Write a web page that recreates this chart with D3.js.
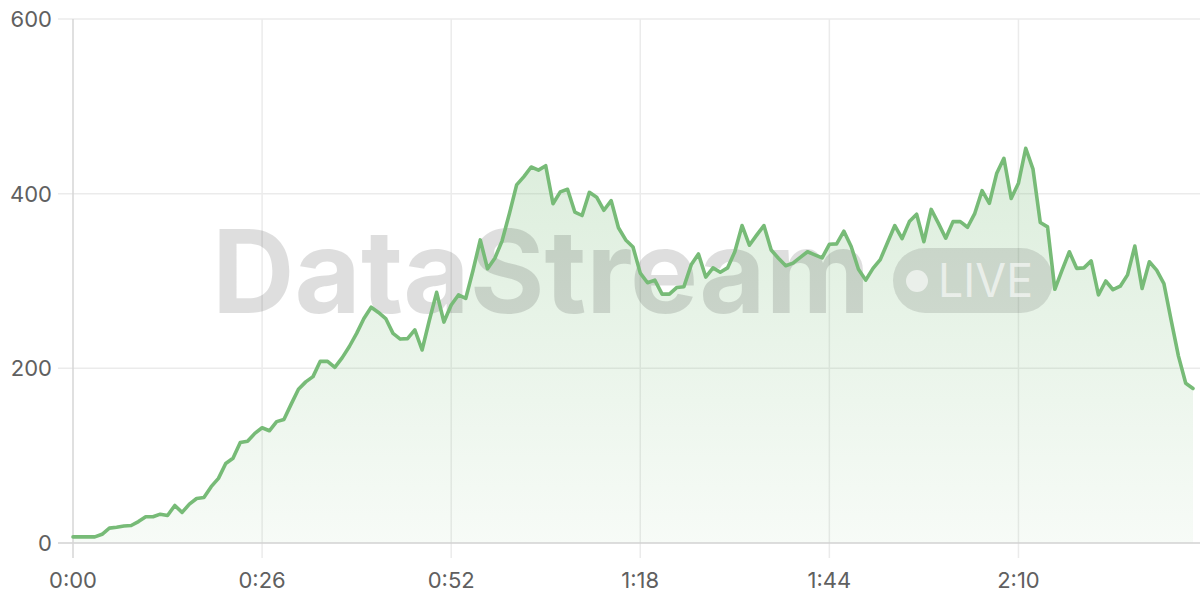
<!DOCTYPE html>
<html>
<head>
<meta charset="utf-8">
<script src="https://cdn.jsdelivr.net/npm/d3@7"></script>
<style>
  html, body { margin: 0; padding: 0; background: #ffffff; }
  svg { display: block; }
</style>
</head>
<body>
<svg id="chart" width="1200" height="600"></svg>
<script>
// ---- data (one sample per second) ----
const seconds = d3.range(0, 155);
const viewers = [
  7, 7, 7, 7, 10, 17, 18, 19.5, 20, 24.5,
  30, 30, 33, 31.5, 43, 35, 44.5, 51, 52, 64.5,
  74, 91, 97, 115, 116.5, 125.5, 132, 128.5, 139, 141.5,
  159, 176, 184.5, 190.5, 208, 208, 201, 212, 225, 240,
  257, 270, 264, 257, 240, 233.5, 234, 244, 221, 255,
  287, 253, 272.5, 284, 280, 312, 347, 314, 326, 346,
  377, 410, 419.5, 430.5, 427, 432, 388.5, 402, 405, 379,
  375, 401.5, 396, 381, 392, 361, 347, 339, 309, 298,
  301, 285, 285, 292.5, 293.5, 318.5, 331, 304.5, 315, 310,
  315, 333.5, 363.5, 341, 352.5, 363.5, 335.5, 326, 317.5, 320.5,
  327, 333.5, 330, 326.5, 342, 342.5, 357, 339.5, 313.5, 301,
  314.5, 324.5, 344, 363.5, 348.5, 368, 376.5, 345, 382, 366,
  349, 368, 368, 361.5, 377.5, 403.5, 389, 423, 440.5, 394.5,
  412, 452, 428, 367, 362, 290.5, 312.5, 333.5, 314.5, 315,
  323, 284, 300, 290, 294, 307, 340, 291.5, 322, 312.5,
  297, 255, 214, 183, 177
];
const xTicks = [0, 26, 52, 78, 104, 130];
const yTicks = [0, 200, 400, 600];
const watermarkText = "DataStream";
const badgeText = "LIVE";

// ---- layout ----
const svg = d3.select("#chart");
const plotL = 73, plotR = 1193, plotT = 19, plotB = 543;
const x = d3.scaleLinear().domain([0, 154]).range([plotL, plotR]);
const y = d3.scaleLinear().domain([0, 600]).range([plotB, plotT]);
const fmt = s => `${Math.floor(s / 60)}:${String(s % 60).padStart(2, "0")}`;
const lineColor = "#77bb77";

const defs = svg.append("defs");
const grad = defs.append("linearGradient")
  .attr("id", "areaGrad").attr("x1", 0).attr("y1", 0).attr("x2", 0).attr("y2", 1);
grad.append("stop").attr("offset", "0%").attr("stop-color", lineColor).attr("stop-opacity", 0.26);
grad.append("stop").attr("offset", "100%").attr("stop-color", lineColor).attr("stop-opacity", 0.06);

// horizontal grid
svg.append("g").selectAll("line")
  .data(yTicks.filter(d => d !== 0))
  .join("line")
  .attr("x1", plotL - 15).attr("x2", 1200)
  .attr("y1", d => y(d)).attr("y2", d => y(d))
  .attr("stroke", "#ebebeb").attr("stroke-width", 1.5);

// vertical grid
svg.append("g").selectAll("line")
  .data(xTicks.filter(d => d !== 0))
  .join("line")
  .attr("x1", d => x(d)).attr("x2", d => x(d))
  .attr("y1", plotT).attr("y2", plotB + 15)
  .attr("stroke", "#ebebeb").attr("stroke-width", 1.5);

// area
const pts = seconds.map((s, i) => [s, viewers[i]]);
svg.append("path")
  .datum(pts)
  .attr("fill", "url(#areaGrad)")
  .attr("d", d3.area().x(d => x(d[0])).y0(y(0)).y1(d => y(d[1])));

// axes lines
svg.append("line")
  .attr("x1", plotL - 15).attr("x2", 1200).attr("y1", y(0)).attr("y2", y(0))
  .attr("stroke", "#d2d2d2").attr("stroke-width", 1.5);
svg.append("line")
  .attr("x1", x(0)).attr("x2", x(0)).attr("y1", plotT).attr("y2", plotB + 15)
  .attr("stroke", "#d6d6d6").attr("stroke-width", 1.5);

// watermark
const wm = svg.append("g");
wm.append("text")
  .attr("x", 212).attr("y", 313)
  .attr("font-family", "Inter, 'Liberation Sans', sans-serif")
  .attr("font-weight", 700)
  .attr("font-size", 115)
  .attr("textLength", 658).attr("lengthAdjust", "spacingAndGlyphs")
  .attr("fill", "rgba(0,0,0,0.13)")
  .text(watermarkText);
wm.append("rect")
  .attr("x", 893).attr("y", 248).attr("width", 160).attr("height", 65).attr("rx", 32)
  .attr("fill", "rgba(0,0,0,0.11)");
wm.append("circle")
  .attr("cx", 917).attr("cy", 281).attr("r", 11)
  .attr("fill", "rgba(255,255,255,0.6)");
wm.append("text")
  .attr("x", 938).attr("y", 297)
  .attr("font-family", "Inter, 'Liberation Sans', sans-serif")
  .attr("font-size", 46)
  .attr("textLength", 95).attr("lengthAdjust", "spacingAndGlyphs")
  .attr("fill", "rgba(255,255,255,0.6)")
  .text(badgeText);

// line
svg.append("path")
  .datum(pts)
  .attr("fill", "none")
  .attr("stroke", lineColor)
  .attr("stroke-width", 3.6)
  .attr("stroke-linejoin", "round")
  .attr("stroke-linecap", "round")
  .attr("d", d3.line().x(d => x(d[0])).y(d => y(d[1])));

// y labels
svg.append("g").selectAll("text")
  .data(yTicks)
  .join("text")
  .attr("x", 52).attr("y", d => y(d) + 8)
  .attr("text-anchor", "end")
  .attr("font-family", "Inter, 'Liberation Sans', sans-serif")
  .attr("font-size", 22)
  .attr("fill", "#606060")
  .text(d => d);

// x labels
svg.append("g").selectAll("text")
  .data(xTicks)
  .join("text")
  .attr("x", d => x(d)).attr("y", 588)
  .attr("text-anchor", "middle")
  .attr("font-family", "Inter, 'Liberation Sans', sans-serif")
  .attr("font-size", 22)
  .attr("fill", "#606060")
  .text(d => fmt(d));
</script>
</body>
</html>
